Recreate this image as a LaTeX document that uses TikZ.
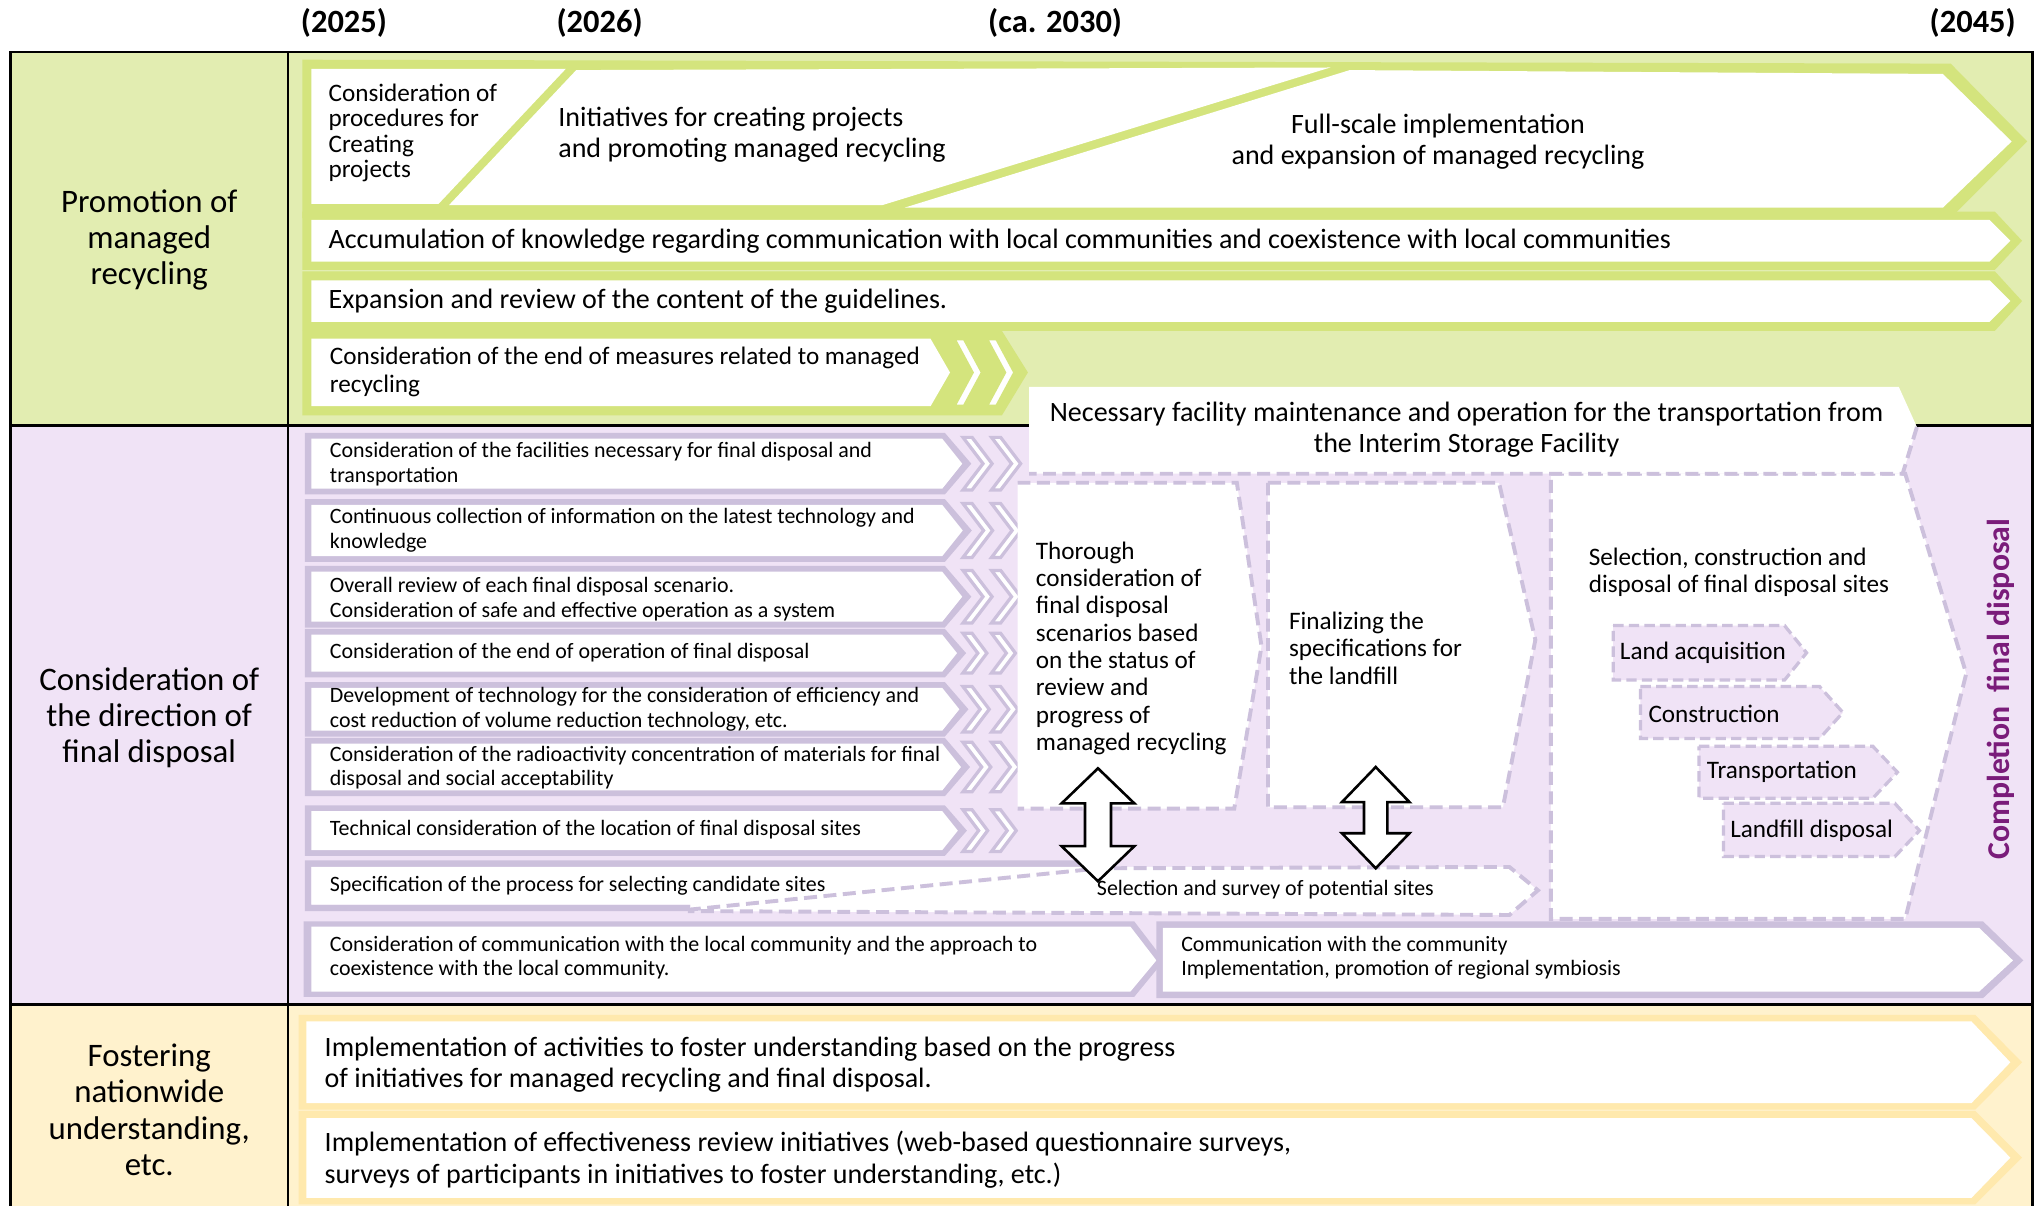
\documentclass[tikz,border=0pt]{standalone}
\usepackage{fontspec}
\setmainfont{Carlito}

\definecolor{greenbg}{HTML}{E2EDB1}
\definecolor{greenln}{HTML}{D4E47D}
\definecolor{purplebg}{HTML}{F0E3F6}
\definecolor{purpleln}{HTML}{CCC0DC}
\definecolor{yellowbg}{HTML}{FFF2CD}
\definecolor{yellowln}{HTML}{FFE9AD}
\definecolor{donecol}{HTML}{7A1C7A}

\tikzset{
  txt/.style={anchor=west, inner sep=0pt, align=left},
  small/.style={txt, font=\fontsize{16.9}{19}\selectfont},
  large/.style={txt, font=\fontsize{21.6}{24}\selectfont},
  mid/.style={txt, font=\fontsize{19.4}{21}\selectfont},
  head/.style={inner sep=0pt, align=center, font=\fontsize{25.3}{28}\selectfont},
  year/.style={inner sep=0pt, font=\bfseries\fontsize{25}{28}\selectfont},
  dashbox/.style={draw=purpleln, line width=3pt, dash pattern=on 10pt off 5pt},
  stepbox/.style={fill=purplebg, draw=purpleln, line width=2.5pt, dash pattern=on 8pt off 4pt},
  chevron/.style={fill=white, draw=purpleln, line width=2.5pt},
  blockarrow/.style={fill=white, draw=black, line width=2pt, line join=miter},
}

\begin{document}
\begin{tikzpicture}[x=1pt, y=-1pt]
  \useasboundingbox (0,0) rectangle (1568,929);
  \fill[white] (0,0) rectangle (1568,929);

  % Backgrounds
  \fill[greenbg] (8,40) rectangle (1566,328);
  \fill[purplebg] (8,328) rectangle (1566,774);
  \fill[yellowbg] (8,774) rectangle (1566,929);

  % Table lines
  \draw[line width=2pt] (8,929) -- (8,40) -- (1566,40) -- (1566,929);
  \draw[line width=2pt] (222,40) -- (222,929);
  \draw[line width=2pt] (8,328) -- (1566,328);
  \draw[line width=2pt] (8,774) -- (1566,774);

  % Years
  \node[year] (y2025) at (265,18) {(2025)};
  \node[year] (y2026) at (462,18) {(2026)};
  \node[year] (y2030) at (813,18) {(ca. 2030)};
  \node[year] (y2045) at (1520,18) {(2045)};

  % Row headers
  \node[head] (hpromo) at (115,185) {Promotion of\\managed\\recycling};
  \node[head] (hfinal) at (115,553) {Consideration of\\the direction of\\final disposal};
  \node[head] (hfoster) at (115,855) {Fostering\\nationwide\\understanding,\\etc.};

  % Promotion of managed recycling
  \fill[greenln] (233,46) -- (1503,49) -- (1562,109) -- (1503,168) -- (233,168) -- cycle;
  \fill[white] (240,53) -- (436,53) -- (338,157) -- (240,157) -- cycle;
  \fill[white] (444,54) -- (1025,52) -- (680,158) -- (346,158) -- cycle;
  \fill[white] (1040,54) -- (1497,57) -- (1550,109) -- (1497,160) -- (697,160) -- cycle;
  \fill[greenln] (233,163) -- (1537,163) -- (1558,185.5) -- (1537,208) -- (233,208) -- cycle;
  \fill[white] (240,169.5) -- (1533,169.5) -- (1549,185.5) -- (1533,201.5) -- (240,201.5) -- cycle;
  \fill[greenln] (233,209) -- (1537,209) -- (1558,232) -- (1537,255) -- (233,255) -- cycle;
  \fill[white] (240,216) -- (1533,216) -- (1549,232) -- (1533,248) -- (240,248) -- cycle;
  \fill[greenln] (233,255) -- (772,255) -- (792,287) -- (772,320) -- (233,320) -- cycle;
  \fill[white] (240,261) -- (717,261) -- (732,287) -- (717,313) -- (240,313) -- cycle;
  \foreach \x in {735,760}
    \filldraw[fill=white, draw=greenln, line width=2.5pt] (\x,261) -- (\x+8,261) -- (\x+22,287) -- (\x+8,313) -- (\x,313) -- (\x+14,287) -- cycle;

  \node[txt, font=\fontsize{19.4}{19.7}\selectfont] (proc) at (253,102.5) {Consideration of\\procedures for\\Creating\\projects};
  \node[large] (init) at (430,104) {Initiatives for creating projects\\and promoting managed recycling};
  \node[large, anchor=center, align=center] (full) at (1108,109) {Full-scale implementation\\and expansion of managed recycling};
  \node[large] (accum) at (253,185.5) {Accumulation of knowledge regarding communication with local communities and coexistence with local communities};
  \node[large] (guide) at (253,232) {Expansion and review of the content of the guidelines.};
  \node[mid] (endmeas) at (254,286.5) {Consideration of the end of measures related to managed\\recycling};

  % Consideration of the direction of final disposal
  \foreach \t/\b in {338/376.5, 389/428.5, 440.5/479, 489/517.5, 530/563, 573/609, 625/655} {
    \pgfmathsetmacro\m{(\t+\b)/2}
    \pgfmathsetmacro\d{(\b-\t)*0.4}
    \fill[purpleln] (235,\t-4.5) -- (728,\t-4.5) -- (733+\d,\m) -- (728,\b+4.5) -- (235,\b+4.5) -- cycle;
    \fill[white] (240,\t) -- (726,\t) -- (726+\d,\m) -- (726,\b) -- (240,\b) -- cycle;
    \foreach \x in {742,764}
      \draw[chevron] (\x,\t-1) -- (\x+7,\t-1) -- (\x+7+\d,\m) -- (\x+7,\b+1) -- (\x,\b+1) -- (\x+\d,\m) -- cycle;
  }

  % candidate sites row
  \fill[purpleln] (235,663) -- (850,663) -- (850,668) -- (240,668) -- (240,697) -- (532,697) -- (532,702) -- (235,702) -- cycle;
  \fill[white] (240,668) -- (1163,668) -- (1185,686) -- (1163,705) -- (532,702) -- (532,697) -- (240,697) -- cycle;
  \draw[dashbox] (530,701) -- (848,669) -- (1163,668) -- (1185,686) -- (1163,705) -- (530,702);

  % community rows
  \fill[purpleln] (234,710) -- (874,710) -- (897,740) -- (874,768) -- (234,768) -- cycle;
  \fill[white] (240,714) -- (871,714) -- (891,740) -- (871,764) -- (240,764) -- cycle;
  \fill[purpleln] (891,710) -- (1528,710) -- (1559,740) -- (1528,769) -- (891,769) -- cycle;
  \fill[white] (896,715) -- (1525,715) -- (1551,740) -- (1525,764) -- (896,764) -- cycle;

  % Dashed boxes
  \filldraw[dashbox, fill=white] (1195,365) -- (1468,365) -- (1515,519) -- (1468,708) -- (1195,708) -- cycle;
  \fill[white] (793,298) -- (1463,298) -- (1477,329) -- (1466,365) -- (793,365) -- cycle;
  \draw[dashbox] (1477,329) -- (1466,365) -- (793,365);
  \fill[white] (784,372) -- (953,372) -- (972,498) -- (951,623) -- (784,623) -- cycle;
  \draw[dashbox] (784,372) -- (953,372) -- (972,498) -- (951,623) -- (784,623);
  \filldraw[dashbox, fill=white] (977,372) -- (1155,372) -- (1183,493) -- (1158,622) -- (977,622) -- cycle;

  \draw[stepbox] (1243,482) -- (1375,482) -- (1392,503) -- (1375,524) -- (1243,524) -- cycle;
  \draw[stepbox] (1264,529) -- (1402,529) -- (1420,549) -- (1402,569) -- (1264,569) -- cycle;
  \draw[stepbox] (1309,575) -- (1443,575) -- (1462,595) -- (1443,615) -- (1309,615) -- cycle;
  \draw[stepbox] (1328,619) -- (1460,619) -- (1479,640) -- (1460,660) -- (1328,660) -- cycle;

  % Arrows
  \draw[blockarrow] (846,592) -- (874,619) -- (856,619) -- (856,652) -- (874,652) -- (846,679) -- (818,652) -- (836,652) -- (836,619) -- (818,619) -- cycle;
  \draw[blockarrow] (1060,591) -- (1086,618) -- (1069,618) -- (1069,642) -- (1086,642) -- (1060,669) -- (1034,642) -- (1051,642) -- (1051,618) -- (1034,618) -- cycle;

  % Texts
  \node[small] (facil) at (254,357.5) {Consideration of the facilities necessary for final disposal and\\transportation};
  \node[small] (collect) at (254,408.5) {Continuous collection of information on the latest technology and\\knowledge};
  \node[small] (review) at (254,461.5) {Overall review of each final disposal scenario.\\Consideration of safe and effective operation as a system};
  \node[small] (endop) at (254,502.5) {Consideration of the end of operation of final disposal};
  \node[small] (tech) at (254,546.5) {Development of technology for the consideration of efficiency and\\cost reduction of volume reduction technology, etc.};
  \node[small] (radio) at (254,591.5) {Consideration of the radioactivity concentration of materials for final\\disposal and social acceptability};
  \node[small] (locat) at (254,639.5) {Technical consideration of the location of final disposal sites};
  \node[small] (cand) at (254,682.5) {Specification of the process for selecting candidate sites};
  \node[small] (commA) at (254,738) {Consideration of communication with the local community and the approach to\\coexistence with the local community.};
  \node[small] (commB) at (910,738) {Communication with the community\\Implementation, promotion of regional symbiosis};

  \node[large, anchor=center, align=center] (isf) at (1130,331) {Necessary facility maintenance and operation for the transportation from\\the Interim Storage Facility};
  \node[txt, font=\fontsize{19.4}{21.1}\selectfont] (thor) at (798,499.5) {Thorough\\consideration of\\final disposal\\scenarios based\\on the status of\\review and\\progress of\\managed recycling};
  \node[mid] (spec) at (993,499.5) {Finalizing the\\specifications for\\the landfill};
  \node[mid] (sel) at (1224,441) {Selection, construction and\\disposal of final disposal sites};
  \node[mid] (land) at (1248,503) {Land acquisition};
  \node[mid] (cons) at (1270,550) {Construction};
  \node[mid] (trans) at (1315,595) {Transportation};
  \node[mid] (fill) at (1333,640) {Landfill disposal};
  \node[small] (survey) at (845,685.5) {Selection and survey of potential sites};
  \node[inner sep=0pt, rotate=90, text=donecol, font=\bfseries\fontsize{24.5}{28}\selectfont] (done) at (1542,531) {Completion\ \ final disposal};

  % Fostering nationwide understanding
  \fill[yellowln] (230,782) -- (1522,782) -- (1558,818.5) -- (1522,855) -- (230,855) -- cycle;
  \fill[white] (236,787) -- (1519,787) -- (1549,818.5) -- (1519,850) -- (236,850) -- cycle;
  \fill[yellowln] (230,856) -- (1522,856) -- (1558,892) -- (1522,928) -- (230,928) -- cycle;
  \fill[white] (236,861.5) -- (1519,861.5) -- (1549,892) -- (1519,923) -- (236,923) -- cycle;
  \node[large] (act) at (250,820.5) {Implementation of activities to foster understanding based on the progress\\of initiatives for managed recycling and final disposal.};
  \node[large] (eff) at (250,893.5) {Implementation of effectiveness review initiatives (web-based questionnaire surveys,\\surveys of participants in initiatives to foster understanding, etc.)};
\end{tikzpicture}
\end{document}
